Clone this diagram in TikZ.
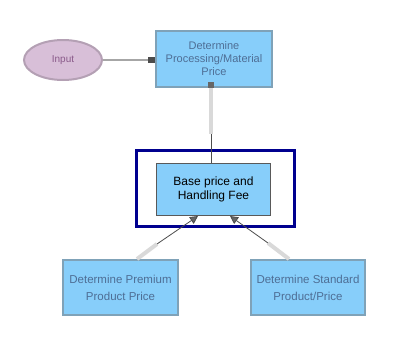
\documentclass[tikz,border=0pt]{standalone}
\usepackage{fontspec}
\setmainfont{Liberation Sans}
\usetikzlibrary{arrows.meta,shapes.geometric}
\definecolor{boxblue}{HTML}{87CEFA}
\definecolor{fadeborder}{HTML}{7FA2B8}
\definecolor{fadetext}{HTML}{4E6E95}
\definecolor{inputfill}{HTML}{D8BFD8}
\definecolor{inputborder}{HTML}{B4A0B4}
\definecolor{inputtext}{HTML}{8A5A8A}
\definecolor{navyframe}{HTML}{00008F}
\begin{document}
\begin{tikzpicture}[x=1pt,y=-1pt,
  fadebox/.style={draw=fadeborder,line width=2pt,fill=boxblue,inner sep=0pt,
    text=fadetext,font=\fontsize{11}{13}\selectfont,align=center,anchor=north west},
  basebox/.style={draw=black!65,line width=1pt,fill=boxblue,inner sep=0pt,
    text=black,font=\fontsize{12}{13.5}\selectfont,align=center,anchor=north west},
  fadeline/.style={draw=black!15,line width=4pt},
  darkline/.style={draw=black!70,line width=0.8pt},
  tipline/.style={darkline,-{Triangle[length=8pt,width=8pt,fill=black!60]}}]
\useasboundingbox (0,0) rectangle (410,349);
% nodes
\node[ellipse,draw=inputborder,line width=2pt,fill=inputfill,minimum width=78pt,minimum height=40pt,
  text=inputtext,font=\fontsize{10}{12}\selectfont] (input) at (63,60) {Input};
\node[fadebox,minimum width=116pt,minimum height=56pt] (top) at (155,30)
  {Determine\\Processing/Material\\Price};
\node[draw=navyframe,line width=3pt,minimum width=158pt,minimum height=76pt,anchor=north west,inner sep=0pt] (frame) at (135,149) {};
\node[basebox,minimum width=114pt,minimum height=52pt] (base) at (156,163)
  {Base price and\\Handling Fee};
\node[fadebox,minimum width=115pt,minimum height=55pt,font=\fontsize{11.5}{17}\selectfont] (left) at (62,259)
  {Determine Premium\\Product Price};
\node[fadebox,minimum width=114pt,minimum height=55pt,font=\fontsize{11.5}{17}\selectfont] (right) at (250,259)
  {Determine Standard\\Product/Price};
% connectors
\draw[draw=black!35,line width=2pt] (input.east) -- (input.east -| top.west);
\fill[black!70] ([xshift=-7pt,yshift=-3pt]input.east -| top.west) rectangle ([yshift=3pt]input.east -| top.west);
\coordinate (mid) at (211,134);
\draw[fadeline] (top.south -| mid) -- (mid);
\fill[black!60] ([xshift=-3pt]top.south -| mid) rectangle ([xshift=3pt,yshift=6pt]top.south -| mid);
\draw[darkline] (mid) -- (base.north -| mid);
\coordinate (lmid) at (157,244);
\coordinate (rmid) at (268,243);
\draw[fadeline] (left.north west) ++(75,0) coordinate (lstart) -- (lmid);
\draw[tipline] (lmid) -- (198,216);
\draw[fadeline] (right.north west) ++(39,0) coordinate (rstart) -- (rmid);
\draw[tipline] (rmid) -- (230,216);
\end{tikzpicture}
\end{document}
